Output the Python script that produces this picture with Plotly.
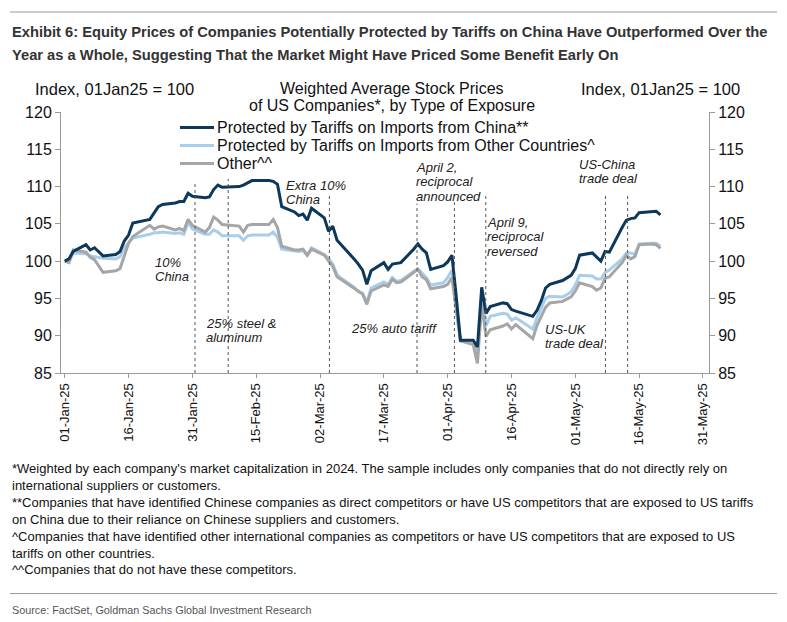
import plotly.graph_objects as go

# ---------------- data ----------------
dates = ["2025-01-01","2025-01-02","2025-01-03","2025-01-06","2025-01-07","2025-01-08","2025-01-10","2025-01-13","2025-01-14","2025-01-15","2025-01-16","2025-01-17","2025-01-21","2025-01-22","2025-01-23","2025-01-24","2025-01-27","2025-01-28","2025-01-29","2025-01-30","2025-01-31",
         "2025-02-03","2025-02-04","2025-02-05","2025-02-06","2025-02-07","2025-02-10","2025-02-11","2025-02-12","2025-02-13","2025-02-14","2025-02-18","2025-02-19","2025-02-20","2025-02-21","2025-02-24","2025-02-25","2025-02-26","2025-02-27","2025-02-28",
         "2025-03-03","2025-03-04","2025-03-05","2025-03-06","2025-03-07","2025-03-10","2025-03-11","2025-03-12","2025-03-13","2025-03-14","2025-03-17","2025-03-18","2025-03-19","2025-03-20","2025-03-21","2025-03-24","2025-03-25","2025-03-26","2025-03-27","2025-03-28","2025-03-31",
         "2025-04-01","2025-04-02","2025-04-03","2025-04-04","2025-04-07","2025-04-08","2025-04-09","2025-04-10","2025-04-11","2025-04-14","2025-04-15","2025-04-16","2025-04-17","2025-04-21","2025-04-22","2025-04-23","2025-04-24","2025-04-25","2025-04-28","2025-04-29","2025-04-30",
         "2025-05-01","2025-05-02","2025-05-05","2025-05-06","2025-05-07","2025-05-08","2025-05-09","2025-05-12","2025-05-13","2025-05-14","2025-05-15","2025-05-16","2025-05-19","2025-05-20","2025-05-21"]

china = [100, 100.3, 101.3, 102.2, 101.5, 101.8, 100.7, 100.9, 101.3, 102.7, 103.5, 105.1, 105.6, 106.4, 107.3, 107.6, 107.8, 108.0, 108.0, 109.1, 108.7,
         108.5, 108.6, 109.6, 110.2, 109.9, 109.9, 110.0, 110.2, 110.5, 110.8, 110.8, 110.7, 110.3, 107.3, 106.6, 106.1, 106.3, 105.5, 107.1,
         105.8, 104.0, 104.7, 102.8, 102.2, 100.3, 99.6, 98.8, 96.9, 98.7, 99.8, 98.9, 99.6, 99.7, 99.8, 101.6, 102.3, 101.6, 101.1, 98.9, 99.4,
         99.9, 100.8, 95.3, 89.4, 89.4, 88.5, 96.5, 93.0, 93.9, 94.4, 94.3, 93.5, 93.3, 92.6, 93.4, 94.7, 96.4, 96.9, 97.4, 97.8, 98.1,
         99.0, 100.8, 101.1, 100.6, 100.0, 101.3, 101.2, 104.5, 105.5, 105.7, 105.8, 106.5, 106.7, 106.7, 106.2]

other_countries = [100, 99.9, 101.1, 101.0, 100.7, 100.6, 100.4, 100.3, 100.6, 101.8, 102.4, 103.1, 103.6, 103.8, 103.8, 103.9, 103.7, 103.8, 103.6, 105.2, 104.3,
                   103.6, 103.6, 104.2, 103.9, 103.4, 103.4, 103.4, 102.8, 103.4, 103.5, 103.5, 103.9, 103.2, 101.6, 101.4, 101.3, 101.4, 100.8, 101.8,
                   100.9, 100.4, 99.6, 98.2, 97.7, 96.5, 95.9, 95.7, 94.5, 96.4, 97.2, 96.9, 97.8, 97.3, 97.4, 98.6, 99.0, 98.4, 97.8, 96.8, 97.1,
                   97.8, 98.8, 94.0, 89.3, 89.2, 87.4, 95.6, 91.3, 92.6, 93.0, 92.9, 92.1, 92.4, 90.9, 92.4, 93.6, 95.0, 95.3, 95.2, 95.5, 95.9,
                   96.8, 98.1, 98.0, 97.6, 97.6, 98.5, 98.8, 100.3, 101.1, 101.1, 100.9, 102.3, 102.4, 102.4, 102.0]

other = [100, 99.8, 101.5, 101.2, 100.5, 100.2, 98.5, 98.7, 99.0, 100.8, 102.4, 103.3, 104.8, 104.3, 104.6, 104.7, 104.2, 104.4, 104.1, 105.6, 104.8,
         103.9, 104.5, 105.9, 105.5, 104.9, 104.8, 104.7, 103.9, 104.8, 104.9, 104.9, 105.6, 104.5, 102.0, 101.5, 101.5, 101.6, 100.8, 101.6,
         100.8, 100.0, 99.3, 97.9, 97.5, 96.4, 96.0, 95.6, 94.2, 96.0, 96.8, 96.6, 97.6, 97.1, 97.2, 98.5, 98.9, 97.9, 97.5, 96.3, 96.6,
         96.9, 97.8, 93.5, 89.3, 88.8, 86.3, 94.3, 89.9, 90.8, 91.3, 91.6, 90.9, 91.5, 89.6, 91.4, 92.7, 93.8, 94.4, 94.6, 94.9, 95.2,
         96.0, 97.1, 96.6, 96.1, 96.4, 97.7, 97.9, 99.8, 100.8, 100.3, 100.6, 102.2, 102.3, 102.2, 101.7]

series_names = ["Protected by Tariffs on Imports from China**",
                "Protected by Tariffs on Imports from Other Countries^",
                "Other^^"]

x_tick_dates = ["2025-01-01","2025-01-16","2025-01-31","2025-02-15","2025-03-02","2025-03-17",
                "2025-04-01","2025-04-16","2025-05-01","2025-05-16","2025-05-31"]
y_ticks = [85, 90, 95, 100, 105, 110, 115, 120]

event_dates = ["2025-01-31 15:00","2025-02-08 10:00","2025-03-04 05:00","2025-03-24 19:00",
               "2025-04-02 14:00","2025-04-09 23:00","2025-05-08 02:00","2025-05-13 07:00"]
event_tops = [110.7, 111.0, 109.1, 107.7, 107.9, 108.8, 109.1, 109.1]

event_labels = [["10%", "China"], ["25% steel &", "aluminum"], ["Extra 10%", "China"],
                ["25% auto tariff"], ["April 2,", "reciprocal", "announced"],
                ["April 9,", "reciprocal", "reversed"], ["US-UK", "trade deal"],
                ["US-China", "trade deal"]]

footnotes = [
    "*Weighted by each company's market capitalization in 2024. The sample includes only companies that do not directly rely on",
    "international suppliers or customers.",
    "**Companies that have identified Chinese companies as direct competitors or have US competitors that are exposed to US tariffs",
    "on China due to their reliance on Chinese suppliers and customers.",
    "^Companies that have identified other international companies as competitors or have US competitors that are exposed to US",
    "tariffs on other countries.",
    "^^Companies that do not have these competitors.",
]

# ---------------- layout helpers (pixel -> paper) ----------------
PL, PR, PT, PB = 61, 709, 112, 372.7
W, H = PR - PL, PB - PT
def fx(p): return (p - PL) / W
def fy(p): return (PB - p) / H

FONT = "Liberation Sans, Arial, sans-serif"
NAVY, LBLUE, GREY = "#0C385C", "#A8CEEB", "#A6A6A6"

fig = go.Figure()
# draw order: light blue, grey, navy on top
fig.add_trace(go.Scatter(x=dates, y=other_countries, name=series_names[1], mode="lines",
                         line=dict(color=LBLUE, width=3), showlegend=False))
fig.add_trace(go.Scatter(x=dates, y=other, name=series_names[2], mode="lines",
                         line=dict(color=GREY, width=3), showlegend=False))
fig.add_trace(go.Scatter(x=dates, y=china, name=series_names[0], mode="lines",
                         line=dict(color=NAVY, width=3), showlegend=False))
# invisible trace to activate the right-hand axis
fig.add_trace(go.Scatter(x=dates, y=china, yaxis="y2", mode="lines", showlegend=False,
                         hoverinfo="skip", line=dict(width=0, color="rgba(0,0,0,0)")))

# legend (drawn manually for compact row spacing)
for i, (nm, col) in enumerate(zip(series_names, [NAVY, LBLUE, GREY])):
    yy = 127.5 + i * 18
    fig.add_shape(type="line", xref="paper", yref="paper", x0=fx(180), x1=fx(214),
                  y0=fy(yy), y1=fy(yy), line=dict(color=col, width=3))
    fig.add_annotation(text=nm, xref="paper", yref="paper", x=fx(215), y=fy(yy),
                       xanchor="left", yanchor="middle", showarrow=False,
                       font=dict(family=FONT, size=16, color="#111111"))

# event lines
for d, top in zip(event_dates, event_tops):
    fig.add_shape(type="line", xref="x", yref="y", x0=d, x1=d, y0=85, y1=top,
                  line=dict(color="#555555", width=1, dash="dot"))

# event labels (left x px, first-line centre y px)
label_pos = [(153, 262), (204, 323), (284, 185), (349, 328), (414, 167), (485, 222), (543, 329), (577, 164)]
for lines, (lx, ly) in zip(event_labels, label_pos):
    for i, t in enumerate(lines):
        fig.add_annotation(text=t, xref="paper", yref="paper", x=fx(lx), y=fy(ly + i * 14.5),
                           xanchor="left", yanchor="middle", showarrow=False,
                           font=dict(family=FONT, size=13, color="#222222", style="italic"))

# chart header texts
fig.add_annotation(text="Weighted Average Stock Prices", xref="paper", yref="paper",
                   x=fx(392), y=fy(89), xanchor="center", yanchor="middle", showarrow=False,
                   font=dict(family=FONT, size=16, color="#111111"))
fig.add_annotation(text="of US Companies*, by Type of Exposure", xref="paper", yref="paper",
                   x=fx(392), y=fy(106), xanchor="center", yanchor="middle", showarrow=False,
                   font=dict(family=FONT, size=16, color="#111111"))
fig.add_annotation(text="Index, 01Jan25 = 100", xref="paper", yref="paper",
                   x=fx(114), y=fy(89), xanchor="center", yanchor="middle", showarrow=False,
                   font=dict(family=FONT, size=16.5, color="#111111"))
fig.add_annotation(text="Index, 01Jan25 = 100", xref="paper", yref="paper",
                   x=fx(660), y=fy(89), xanchor="center", yanchor="middle", showarrow=False,
                   font=dict(family=FONT, size=16.5, color="#111111"))

# exhibit title
fig.add_annotation(text="<b>Exhibit 6: Equity Prices of Companies Potentially Protected by Tariffs on China Have Outperformed Over the</b>",
                   xref="paper", yref="paper", x=fx(10), y=fy(32), xanchor="left", yanchor="middle",
                   showarrow=False, font=dict(family=FONT, size=14.7, color="#333333"))
fig.add_annotation(text="<b>Year as a Whole, Suggesting That the Market Might Have Priced Some Benefit Early On</b>",
                   xref="paper", yref="paper", x=fx(10), y=fy(55), xanchor="left", yanchor="middle",
                   showarrow=False, font=dict(family=FONT, size=14.7, color="#333333"))

# footnotes
fig.add_annotation(text="<br>".join(footnotes), xref="paper", yref="paper", x=fx(10), y=fy(459),
                   xanchor="left", yanchor="top", align="left", showarrow=False,
                   font=dict(family=FONT, size=13, color="#111111"))
fig.add_annotation(text="Source: FactSet, Goldman Sachs Global Investment Research", xref="paper", yref="paper",
                   x=fx(10), y=fy(609), xanchor="left", yanchor="middle", showarrow=False,
                   font=dict(family=FONT, size=10.8, color="#555555"))

# rules
fig.add_shape(type="line", xref="paper", yref="paper", x0=fx(10), x1=fx(777), y0=fy(12), y1=fy(12),
              line=dict(color="#BBBBBB", width=1.5))
fig.add_shape(type="line", xref="paper", yref="paper", x0=fx(10), x1=fx(777), y0=fy(593), y1=fy(593),
              line=dict(color="#999999", width=1))

axis_common = dict(range=[85, 120], tickvals=y_ticks, showgrid=False, zeroline=False,
                   showline=True, linecolor="#999999", linewidth=1, ticks="outside",
                   ticklen=5, tickcolor="#999999", tickfont=dict(family=FONT, size=16, color="#111111"))

fig.update_layout(
    width=787, height=622,
    margin=dict(l=PL, r=787 - PR, t=PT, b=622 - PB, autoexpand=False),
    paper_bgcolor="white", plot_bgcolor="white",
    xaxis=dict(type="date", range=["2024-12-31 03:00", "2025-06-01 10:00"],
               tickvals=x_tick_dates, tickformat="%d-%b-%y", tickangle=-90,
               showgrid=False, zeroline=False, showline=True, linecolor="#999999", linewidth=1,
               ticks="outside", ticklen=4, tickcolor="#999999",
               tickfont=dict(family=FONT, size=13, color="#111111")),
    yaxis=dict(**axis_common, side="left"),
    yaxis2=dict(**axis_common, side="right", overlaying="y", matches="y"),
    showlegend=False,
)

fig.write_html("out.html")
